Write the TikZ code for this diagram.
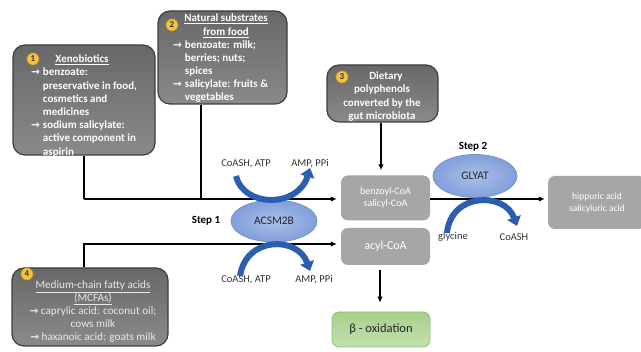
\documentclass[tikz,border=0pt]{standalone}
\usepackage{fontspec}
\setmainfont{Carlito}
\newfontfamily\arrowfont{DejaVu Sans}
\newcommand{\rarr}{{\arrowfont\bfseries\fontsize{10.5}{10}\selectfont →}}
\usetikzlibrary{arrows.meta,shapes.geometric}
\definecolor{boxedge}{HTML}{3E3E3E}
\definecolor{boxtop}{HTML}{686868}
\definecolor{boxbot}{HTML}{8A8A8A}
\definecolor{litegrey}{HTML}{A6A6A6}
\definecolor{enzin}{HTML}{A9BFE9}
\definecolor{enzout}{HTML}{839FD9}
\definecolor{enzedge}{HTML}{7593CF}
\definecolor{arcblue}{HTML}{2B5DB0}
\definecolor{numfill}{HTML}{F5C342}
\definecolor{numedge}{HTML}{C8961E}
\definecolor{greentop}{HTML}{A8D08D}
\definecolor{greenbot}{HTML}{C3E0AE}
\definecolor{greenedge}{HTML}{93C173}
\definecolor{lbltext}{HTML}{333333}
\definecolor{mcfatext}{HTML}{E8E8E8}
\begin{document}
\begin{tikzpicture}[x=1pt,y=-1pt,
  darkbox/.style={draw=boxedge, line width=1.2pt, rounded corners=12pt,
    top color=boxtop, bottom color=boxbot, inner sep=0pt},
  litebox/.style={fill=litegrey, rounded corners=7pt, text=white, inner sep=0pt, align=center},
  greenbox/.style={draw=greenedge, line width=0.8pt, rounded corners=7pt,
    top color=greentop, bottom color=greenbot, inner sep=0pt},
  enz/.style={ellipse, draw=enzedge, line width=0.8pt, inner color=enzin, outer color=enzout,
    inner sep=0pt, font=\fontsize{11.5}{12}\selectfont, text=black!85},
  num/.style={circle, draw=numedge, line width=0.6pt, fill=numfill, inner sep=0pt,
    minimum size=12pt, font=\bfseries\fontsize{9}{9}\selectfont, text=lbltext},
  whitetxt/.style={inner sep=0pt, text=white, font=\bfseries\fontsize{11}{13.2}\selectfont},
  conn/.style={line width=1.3pt, -{Latex[length=6pt,width=5.5pt]}},
  plain/.style={line width=1.3pt},
  bluearc/.style={line width=6pt, draw=arcblue, -{Triangle[length=9pt,width=14pt]}},
  lbl/.style={inner sep=0pt, text=lbltext, font=\fontsize{10.5}{12}\selectfont},
  steplbl/.style={inner sep=0pt, font=\bfseries\fontsize{11}{12}\selectfont}
]
\useasboundingbox (0,0) rectangle (641,352);
\fill[white] (0,0) rectangle (641,352);

% ---- source boxes ----
\node[darkbox, minimum width=142pt, minimum height=110pt] (x1) at (84,100) {};
\node[darkbox, minimum width=129pt, minimum height=93pt] (x2) at (222.5,57.5) {};
\node[darkbox, minimum width=111pt, minimum height=57pt] (x3) at (382.5,93.5) {};
\node[darkbox, minimum width=156pt, minimum height=78pt] (x4) at (90,307) {};

% box 1 text
\node[whitetxt, anchor=base] (h1) at (82,62.5) {\underline{Xenobiotics}};
\node[whitetxt, anchor=base west] (l1) at (31,76) {\begin{tabular}[t]{@{}c@{\hspace{3pt}}l@{}}
\rarr & benzoate:\\
 & preservative in food,\\
 & cosmetics and\\
 & medicines\\
\rarr & sodium salicylate:\\
 & active component in\\
 & aspirin
\end{tabular}};

% box 2 text
\node[whitetxt, anchor=base, font=\bfseries\fontsize{11}{14}\selectfont] (h2) at (226,21.5) {\begin{tabular}[t]{@{}c@{}}
\underline{Natural substrates}\\ \underline{from food}\end{tabular}};
\node[whitetxt, anchor=base west, font=\bfseries\fontsize{11}{13}\selectfont] (l2) at (173,48.5) {\begin{tabular}[t]{@{}c@{\hspace{3pt}}l@{}}
\rarr & benzoate: milk;\\
 & berries; nuts;\\
 & spices\\
\rarr & salicylate: fruits \&\\
 & vegetables
\end{tabular}};

% box 3 text
\node[whitetxt, anchor=base, font=\bfseries\fontsize{11}{13.3}\selectfont] (t3) at (382,79.5) {\begin{tabular}[t]{@{}c@{}}
\hspace*{8pt}Dietary\\ polyphenols\\ converted by the\\ gut microbiota\end{tabular}};

% box 4 text
\node[inner sep=0pt, text=mcfatext, anchor=base, font=\fontsize{11.2}{13}\selectfont] (t4) at (93,288.5) {\begin{tabular}[t]{@{}c@{}}
\underline{Medium-chain fatty acids}\\
\underline{(MCFAs)}\\
\rarr\ caprylic acid: coconut oil;\\
cows milk\\
\rarr\ haxanoic acid: goats milk
\end{tabular}};

% numbers
\node[num] (n1) at (33,59) {1};
\node[num] (n2) at (172,25) {2};
\node[num] (n3) at (342,77) {3};
\node[num] (n4) at (27,274) {4};

% ---- product boxes ----
\node[litebox, minimum width=89pt, minimum height=45pt, font=\fontsize{10}{12}\selectfont] (benz) at (385.5,198) {benzoyl-CoA\\ salicyl-CoA};
\node[litebox, minimum width=89pt, minimum height=37pt, font=\fontsize{12}{14}\selectfont] (acyl) at (385.5,246.5) {acyl-CoA};
\node[litebox, minimum width=98pt, minimum height=53pt, font=\fontsize{9.5}{12}\selectfont] (hipp) at (597,202.5) {hippuric acid\\ salicyluric acid};
\node[greenbox, minimum width=98pt, minimum height=35pt, font=\fontsize{12.5}{14}\selectfont, text=black!85] (beta) at (381,329.5) {β - oxidation};

% ---- connectors ----
\coordinate (j1) at (84,199);
\coordinate (j2) at (201,199);
\coordinate (j4) at (84,244);
\draw[plain] (x1.south) -- (j1);
\draw[plain] (x2.south -| j2) -- (j2);
\draw[conn] (j1) -- ([xshift=-4pt]benz.west |- j1);
\draw[conn] (x4.north -| j4) -- (j4) -- ([xshift=-4pt]acyl.west |- j4);
\draw[conn, shorten >=5pt] (x3.south -| 381,0) -- (benz.north -| 381,0);
\draw[conn, shorten <=5pt, shorten >=9pt] (acyl.south -| 380,0) -- (beta.north -| 380,0);
\draw[conn] (benz.east |- j1) -- ([xshift=-3pt]hipp.west |- j1);

% ---- enzymes ----
\node[enz, minimum width=86pt, minimum height=42pt] (acsm) at (274,221) {ACSM2B};
\node[enz, minimum width=84pt, minimum height=43pt] (glyat) at (475,176) {GLYAT};
\node[steplbl] (s1) at (206,221) {Step 1};
\node[steplbl] (s2) at (473,147) {Step 2};

% ---- cofactor labels ----
\node[lbl] (c1) at (246,164) {CoASH, ATP};
\node[lbl] (p1) at (310,164) {AMP, PPi};
\node[lbl] (c2) at (246,280) {CoASH, ATP};
\node[lbl] (p2) at (314,280) {AMP, PPi};
\node[lbl] (gly) at (453,237) {glycine};
\node[lbl] (coa) at (514,237) {CoASH};

% ---- blue reaction arcs ----
\draw[bluearc] (236,176) .. controls (244,208) and (298,208) .. (310,168);
\draw[bluearc] (240,276) .. controls (246,236) and (298,236) .. (310,271);
\draw[bluearc] (447,233) .. controls (451,192) and (505,192) .. (517,226);
\end{tikzpicture}
\end{document}
